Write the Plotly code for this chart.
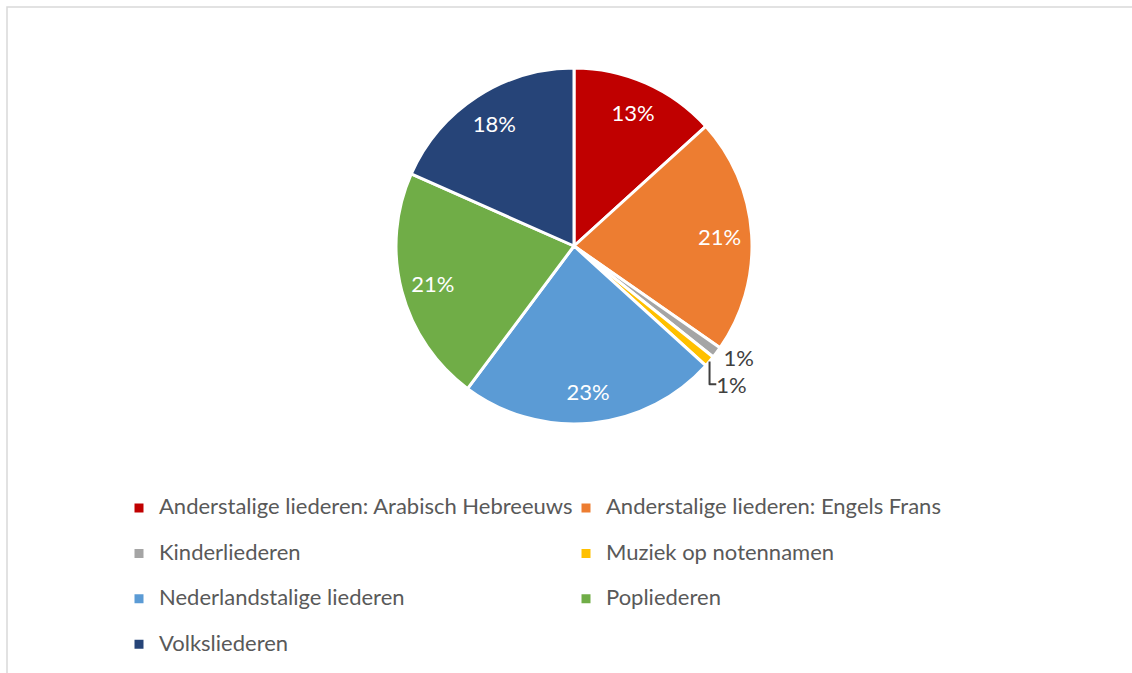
import plotly.graph_objects as go

# Song categories and their counts
categories = [
    "Anderstalige liederen: Arabisch Hebreeuws",
    "Anderstalige liederen: Engels Frans",
    "Kinderliederen",
    "Muziek op notennamen",
    "Nederlandstalige liederen",
    "Popliederen",
    "Volksliederen",
]
counts = [13, 21, 1, 1, 23, 21, 18]
colors = ["#C00000", "#ED7D31", "#A5A5A5", "#FFC000", "#5B9BD5", "#70AD47", "#264478"]
small = [c < 5 for c in counts]  # tiny slices get their label outside

W, H = 1132, 673
FONT = "Lato"
PIE_DOMAIN = dict(x=[396 / W, 752 / W], y=[1 - 424 / H, 1 - 68 / H])

# Legend entries: larger first line, blank second line for taller rows
legend_labels = [
    f"<span style='font-size:22px'>{c}</span>" + ("" if i == len(categories) - 1 else "<br> ")
    for i, c in enumerate(categories)
]

# Main pie: the slices, plus outside labels for the tiny ones
main = go.Pie(
    labels=legend_labels,
    values=counts,
    sort=False,
    direction="clockwise",
    rotation=0,
    marker=dict(colors=colors, line=dict(color="white", width=3)),
    texttemplate="%{percent:.0%}",
    textposition=["outside" if s else "none" for s in small],
    outsidetextfont=dict(color="#404040", size=22, family=FONT),
    domain=PIE_DOMAIN,
    hoverinfo="label+percent",
)

# Transparent ring on top: places the inside labels out towards the rim
ring = go.Pie(
    labels=legend_labels,
    values=counts,
    sort=False,
    direction="clockwise",
    rotation=0,
    hole=0.64,
    marker=dict(colors=["rgba(0,0,0,0)"] * len(counts), line=dict(width=0)),
    texttemplate="%{percent:.0%}",
    textposition=["none" if s else "inside" for s in small],
    insidetextorientation="horizontal",
    insidetextfont=dict(color="white", size=22, family=FONT),
    domain=PIE_DOMAIN,
    showlegend=False,
    hoverinfo="skip",
)

fig = go.Figure([main, ring])

fig.update_layout(
    width=W,
    height=H,
    margin=dict(l=0, r=0, t=0, b=0),
    paper_bgcolor="white",
    showlegend=True,
    legend=dict(
        orientation="h",
        x=119 / W,
        xanchor="left",
        y=1 - 491 / H,
        yanchor="top",
        entrywidth=402,
        entrywidthmode="pixels",
        valign="top",
        font=dict(family=FONT, size=16.3, color="#595959"),
        traceorder="normal",
    ),
    shapes=[
        dict(
            type="path",
            xref="paper",
            yref="paper",
            path=f"M {7 / W} -0.1 L {7 / W} {1 - 7 / H} L 1.1 {1 - 7 / H}",
            line=dict(color="#D9D9D9", width=1.5),
        )
    ],
)

fig.write_html("out.html")
